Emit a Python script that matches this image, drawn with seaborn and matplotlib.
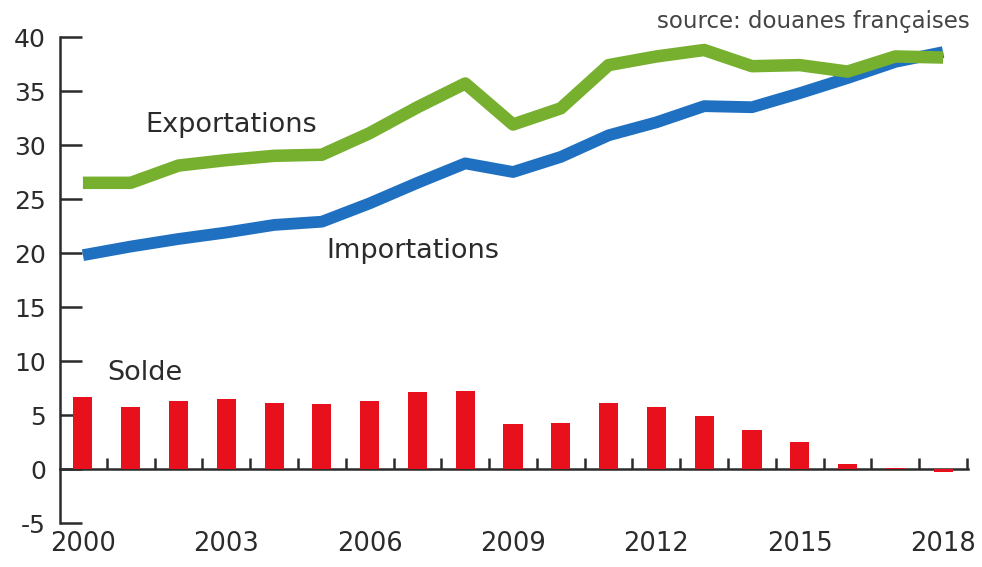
import numpy as np
import pandas as pd
import seaborn as sns
from matplotlib import pyplot as plt

years = list(range(2000, 2019))
exportations = [26.5, 26.5, 28.1, 28.6, 29.0, 29.1, 31.1, 33.5, 35.7, 31.9, 33.4,
                37.4, 38.2, 38.8, 37.3, 37.4, 36.8, 38.2, 38.1]
importations = [19.8, 20.6, 21.3, 21.9, 22.6, 22.9, 24.6, 26.5, 28.3, 27.5, 28.9,
                30.9, 32.1, 33.6, 33.5, 34.8, 36.2, 37.7, 38.6]
solde = [6.7, 5.7, 6.3, 6.45, 6.1, 6.0, 6.3, 7.1, 7.25, 4.2, 4.3,
         6.1, 5.7, 4.9, 3.6, 2.5, 0.45, 0.1, -0.3]
year_labels = [2000, 2003, 2006, 2009, 2012, 2015, 2018]

sns.set_theme(style='white')
plt.rcParams['font.family'] = ['DejaVu Sans']
plt.rcParams['axes.unicode_minus'] = False
dark = '#2b2b2b'

df = pd.DataFrame({'annee': years, 'exp': exportations, 'imp': importations, 'solde': solde})

fig = plt.figure(figsize=(9.82, 5.67), dpi=100)
ax = fig.add_axes([0.0611, 0.0776, 0.9246, 0.8571])

sns.barplot(data=df, x='annee', y='solde', native_scale=True, width=0.4,
            color='#e8101c', saturation=1, linewidth=0, ax=ax, zorder=2)
sns.lineplot(data=df, x='annee', y='imp', color='#1f70c1', linewidth=8.5,
             solid_capstyle='butt', ax=ax, zorder=3)
sns.lineplot(data=df, x='annee', y='exp', color='#77b02f', linewidth=9,
             solid_capstyle='butt', ax=ax, zorder=4)

ax.set_xlim(1999.52, 2018.52)
ax.set_ylim(-5, 40)
ax.set_xlabel('')
ax.set_ylabel('')

for s in ['top', 'right']:
    ax.spines[s].set_visible(False)
ax.spines['bottom'].set_position(('data', 0))
for s in ['left', 'bottom']:
    ax.spines[s].set_color(dark)
    ax.spines[s].set_linewidth(1.8)
    ax.spines[s].set_zorder(1)

ax.set_yticks(range(-5, 41, 5))
ax.tick_params(axis='y', direction='in', length=16, width=1.8, color=dark,
               labelsize=18, labelcolor=dark, pad=10, left=True)
ax.set_xticks(np.arange(2000.5, 2019, 1.0))
ax.tick_params(axis='x', direction='in', length=8, width=1.8, color=dark,
               labelbottom=False, bottom=True)

sec = ax.secondary_xaxis('bottom')
sec.set_xticks(year_labels)
sec.set_xticklabels([str(y) for y in year_labels])
sec.tick_params(length=0, labelsize=18.5, labelcolor=dark, pad=6)
sec.spines['bottom'].set_visible(False)

ax.text(2003.1, 31.9, 'Exportations', fontsize=19.5, color=dark, ha='center', va='center')
ax.text(2006.9, 20.2, 'Importations', fontsize=19.5, color=dark, ha='center', va='center')
ax.text(2001.3, 8.9, 'Solde', fontsize=19.5, color=dark, ha='center', va='center')
fig.text(0.988, 0.962, 'source: douanes françaises', fontsize=16.5, color='#444444',
         ha='right', va='center')

plt.savefig('out.png', dpi=100)
